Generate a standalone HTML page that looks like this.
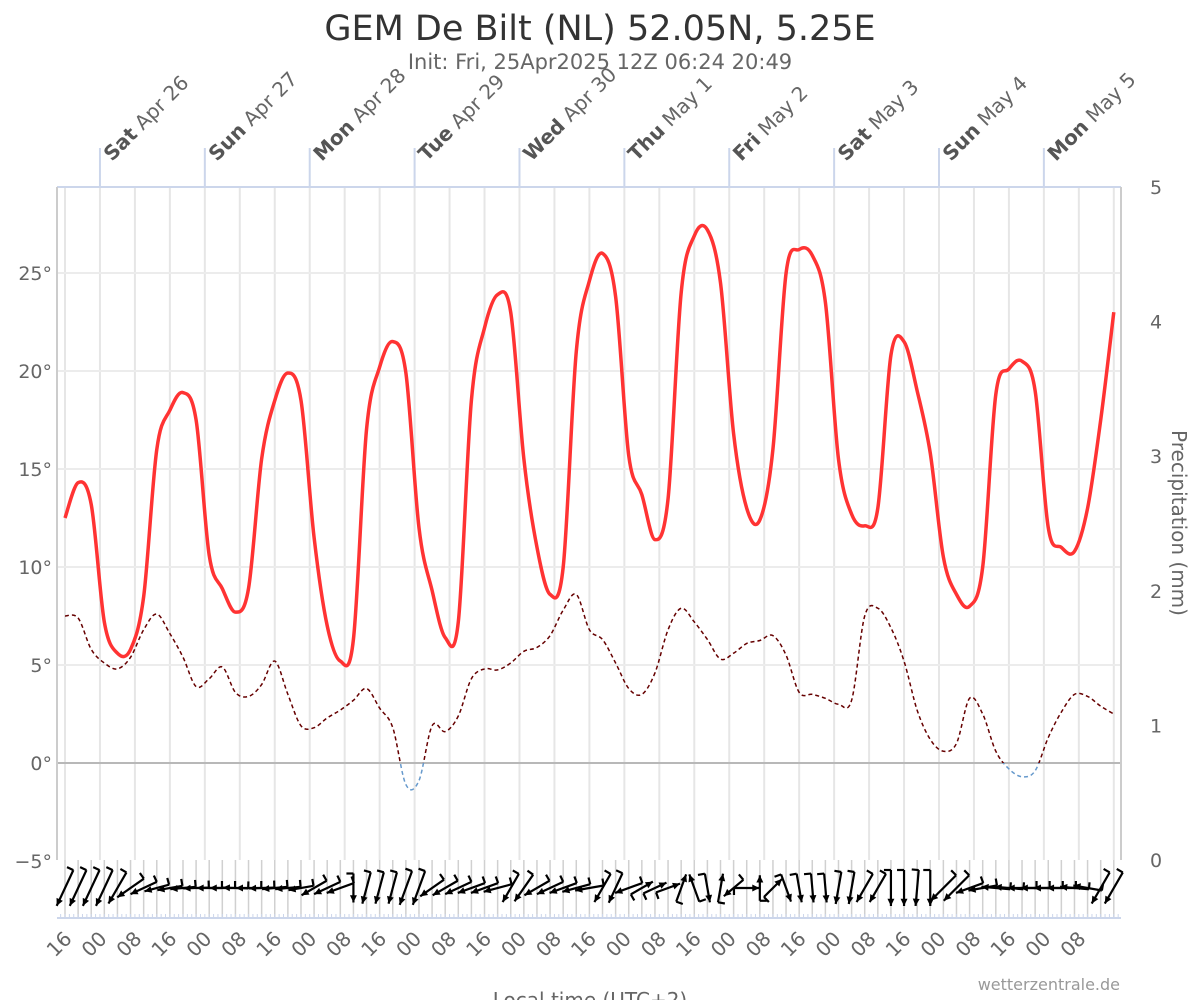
<!DOCTYPE html>
<html><head><meta charset="utf-8"><style>
html,body{margin:0;padding:0;background:#fff;}
svg{display:block;font-family:"DejaVu Sans","Liberation Sans",sans-serif;}
</style></head><body>
<svg id="chart" width="1200" height="1000" viewBox="0 0 1200 1000">
<text x="600" y="40" text-anchor="middle" font-size="35" fill="#333">GEM De Bilt (NL) 52.05N, 5.25E</text>
<text x="600" y="69" text-anchor="middle" font-size="21" fill="#666">Init: Fri, 25Apr2025 12Z 06:24 20:49</text>
<g id="grid"></g>
<g id="axes"></g>
<g id="series"></g>
<g id="wind"></g>
<text x="1120" y="990" text-anchor="end" font-size="16" fill="#999">wetterzentrale.de</text>
<text x="590" y="1007" text-anchor="middle" font-size="20" fill="#666">Local time (UTC+2)</text>
<text transform="translate(1172,523) rotate(90)" text-anchor="middle" font-size="20" fill="#666">Precipitation (mm)</text>
</svg>
<script>
// data: 3-hourly from Fri Apr 25 16:00 local
const stepHours = 3;
const temperature = [12.5,14.3,13.2,7.2,5.6,5.8,8.5,16.0,18.0,18.9,17.5,10.6,8.9,7.7,8.9,15.5,18.5,19.9,18.5,11.5,7.0,5.2,6.3,17.0,20.2,21.5,19.9,12.0,8.8,6.4,7.2,18.5,22.2,23.9,23.0,15.5,11.0,8.6,10.0,21.0,24.6,26.0,23.8,15.7,13.7,11.4,13.5,24.0,26.9,27.2,24.5,16.8,13.0,12.4,16.0,25.0,26.2,25.9,23.5,15.5,12.7,12.1,13.0,20.8,21.5,19.0,15.8,10.5,8.6,8.0,10.0,18.8,20.1,20.5,19.0,12.0,11.0,10.8,13.0,17.5,23.0];
const dewPoint = [7.5,7.4,5.8,5.1,4.8,5.4,6.8,7.6,6.6,5.4,3.9,4.3,4.9,3.6,3.4,4.0,5.2,3.5,1.9,1.8,2.3,2.7,3.2,3.8,2.8,1.8,-1.1,-0.9,1.9,1.6,2.4,4.3,4.8,4.75,5.1,5.7,5.9,6.5,7.8,8.6,6.8,6.3,5.1,3.8,3.5,4.6,6.8,7.9,7.2,6.3,5.3,5.6,6.1,6.25,6.5,5.5,3.6,3.5,3.3,3.0,3.2,7.5,7.9,6.9,5.2,2.7,1.2,0.6,1.0,3.3,2.5,0.6,-0.3,-0.7,-0.4,1.3,2.6,3.5,3.4,2.9,2.5];
const windDir = [25,25,25,25,30,55,65,75,80,85,88,90,90,92,90,88,85,85,80,60,65,70,0,15,15,15,20,20,55,60,65,70,70,75,30,35,60,65,70,75,80,30,25,70,240,245,250,200,160,350,190,50,270,180,225,340,350,355,355,10,10,30,30,0,0,5,0,45,45,70,80,95,95,90,90,90,90,95,100,30,30];
const windSpeed = [9,9,9,9,8,7,6,5,5,5,5,5,5,5,5,5,5,5,5,6,6,6,6,7,7,7,8,8,6,6,6,6,6,6,7,7,6,6,6,6,6,7,7,6,5,5,5,6,6,6,6,5,5,5,5,6,6,6,6,7,7,7,7,8,8,8,8,8,8,6,6,6,6,6,6,6,6,6,6,8,8];
const tempTicks = [-5,0,5,10,15,20,25];
const precipTicks = [0,1,2,3,4,5];
const dayLabels = [["Sat","Apr 26"],["Sun","Apr 27"],["Mon","Apr 28"],["Tue","Apr 29"],["Wed","Apr 30"],["Thu","May 1"],["Fri","May 2"],["Sat","May 3"],["Sun","May 4"],["Mon","May 5"]];
const hourLabels = ["16","00","08"];

const NS="http://www.w3.org/2000/svg";
const X0=57,X1=1121,Y0=187,Y1=860;
const xOrigin=65, pxPerHour=4.37;
function xh(h){return xOrigin+h*pxPerHour;}
function yT(t){return 763-(t*19.6);}
function yP(p){return 860-p*134.6;}
function mk(tag,attrs,parent){const e=document.createElementNS(NS,tag);for(const k in attrs)e.setAttribute(k,attrs[k]);parent.appendChild(e);return e;}
const grid=document.getElementById('grid'),axes=document.getElementById('axes'),series=document.getElementById('series'),wind=document.getElementById('wind');

for(let h=0;xh(h)<X1;h+=8){
  const l=mk('line',{x1:xh(h),x2:xh(h),y1:Y0,y2:Y1,stroke:'#e6e6e6','stroke-width':2},grid);
  
  
}
tempTicks.forEach(t=>{
  const l=mk('line',{x1:X0,x2:X1,y1:yT(t),y2:yT(t),stroke:t===0?'#b8b8b8':'#ececec','stroke-width':2},grid);
  
  
  const tx=mk('text',{x:52,y:yT(t)+7,'text-anchor':'end','font-size':19,fill:'#666'},axes);
  tx.textContent=(t<0?'\u2212'+(-t):t)+'\u00b0';
  
  
});
precipTicks.forEach(p=>{
  const tx=mk('text',{x:1150,y:yP(p)+7,'text-anchor':'start','font-size':19,fill:'#666'},axes);
  tx.textContent=p;
  
  
});
mk('line',{x1:X0,x2:X1,y1:Y0,y2:Y0,stroke:'#ccd6eb','stroke-width':2},axes);
mk('line',{x1:X0,x2:X0,y1:Y0,y2:Y1,stroke:'#ccc','stroke-width':2},axes);
mk('line',{x1:X1,x2:X1,y1:Y0,y2:Y1,stroke:'#ccc','stroke-width':2},axes);
mk('rect',{x:X0,y:Y1,width:X1-X0,height:58,fill:'#fff'},grid);
for(let h=0;xh(h)<X1;h+=3){
  mk('line',{x1:xh(h),x2:xh(h),y1:Y1,y2:917,stroke:'#d0d0d0','stroke-width':1.5},grid);
}
mk('line',{x1:X0,x2:X1,y1:918,y2:918,stroke:'#ccd6eb','stroke-width':2},axes);
for(let h=-1;xh(h)<X1;h+=1){
  mk('line',{x1:xh(h),x2:xh(h),y1:914,y2:918,stroke:'#ccd6eb','stroke-width':1},axes);
}
dayLabels.forEach((d,i)=>{
  const x=xh(8+24*i);
  const l=mk('line',{x1:x,x2:x,y1:148,y2:Y0,stroke:'#ccd6eb','stroke-width':2},axes);
  
  
  const t=mk('text',{transform:`translate(${x+12},${162}) rotate(-45)`,'font-size':20,fill:'#666'},axes);
  
  
  const b=mk('tspan',{'font-weight':'bold',fill:'#555'},t);b.textContent=d[0];
  const r=mk('tspan',{},t);r.textContent=' '+d[1];
});
for(let k=0;xh(8*k)<X1-30;k++){
  const x=xh(8*k);
  const t=mk('text',{transform:`translate(${x+8},${940}) rotate(-45)`,'text-anchor':'end','font-size':20,fill:'#666'},axes);
  t.textContent=hourLabels[k%3];
  
  
}
function smooth(pts){
  let d=`M${pts[0][0].toFixed(1)},${pts[0][1].toFixed(1)}`;
  for(let i=0;i<pts.length-1;i++){
    const p0=pts[i-1]||pts[i],p1=pts[i],p2=pts[i+1],p3=pts[i+2]||p2;
    const c1=[p1[0]+(p2[0]-p0[0])/6,p1[1]+(p2[1]-p0[1])/6];
    const c2=[p2[0]-(p3[0]-p1[0])/6,p2[1]-(p3[1]-p1[1])/6];
    d+=`C${c1[0].toFixed(1)},${c1[1].toFixed(1)} ${c2[0].toFixed(1)},${c2[1].toFixed(1)} ${p2[0].toFixed(1)},${p2[1].toFixed(1)}`;
  }
  return d;
}
const defs=mk('defs',{},series);
const ca=mk('clipPath',{id:'above'},defs);mk('rect',{x:0,y:0,width:1200,height:yT(0)},ca);
const cb=mk('clipPath',{id:'below'},defs);mk('rect',{x:0,y:yT(0),width:1200,height:200},cb);
const dpts=dewPoint.map((v,i)=>[xh(i*stepHours),yT(v)]);
const dd=smooth(dpts);
const dewA=mk('path',{d:dd,fill:'none',stroke:'#660000','stroke-width':1.5,'stroke-dasharray':'4,3','clip-path':'url(#above)'},series);


const dewB=mk('path',{d:dd,fill:'none',stroke:'#6699cc','stroke-width':1.5,'stroke-dasharray':'4,3','clip-path':'url(#below)'},series);


const tpts=temperature.map((v,i)=>[xh(i*stepHours),yT(v)]);
const tl=mk('path',{d:smooth(tpts),fill:'none',stroke:'#ff3333','stroke-width':3.5,'stroke-linejoin':'round'},series);


windDir.forEach((dir,i)=>{
  const x=xh(i*stepHours), y=888;
  const len=8+windSpeed[i]*3.5;
  const to=(dir+180)*Math.PI/180;
  const ux=Math.sin(to), uy=-Math.cos(to);
  const hx=x+ux*len/2, hy=y+uy*len/2, tx=x-ux*len/2, ty=y-uy*len/2;
  const g=mk('g',{},wind);
  
  
  mk('line',{x1:tx,y1:ty,x2:hx,y2:hy,stroke:'#000','stroke-width':2.2},g);
  const a=Math.atan2(uy,ux), s=8;
  const p1=[hx-s*Math.cos(a-0.45),hy-s*Math.sin(a-0.45)], p2=[hx-s*Math.cos(a+0.45),hy-s*Math.sin(a+0.45)];
  mk('polygon',{points:`${hx},${hy} ${p1[0]},${p1[1]} ${p2[0]},${p2[1]}`,fill:'#000'},g);
  const bx=tx+(-uy)*7, by=ty+ux*7;
  mk('line',{x1:tx,y1:ty,x2:bx,y2:by,stroke:'#000','stroke-width':2.2},g);
});
</script>
</body></html>
